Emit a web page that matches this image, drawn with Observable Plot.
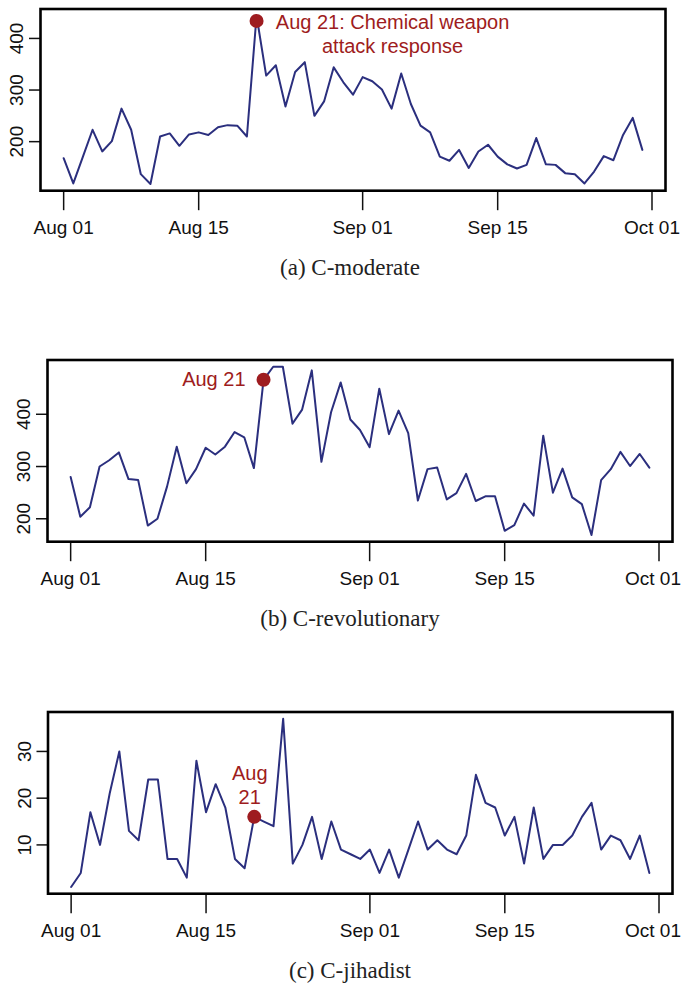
<!DOCTYPE html>
<html><head><meta charset="utf-8">
<script src="https://cdn.jsdelivr.net/npm/d3@7"></script>
<script src="https://cdn.jsdelivr.net/npm/@observablehq/plot@0.6"></script>
<style>
body{margin:0;background:#fff;}
#root{position:relative;width:683px;height:986px;overflow:hidden;background:#fff;}
.panel{position:absolute;left:0;}
.cap{position:absolute;left:0;width:700px;text-align:center;font-family:"Liberation Serif","Times New Roman",serif;font-size:23px;line-height:23px;color:#222;}
</style></head><body><div id="root"></div>
<script>
// ---- data ----
const startDate = "2013-08-01";
const endDate = "2013-09-30";
const xTicks = ["2013-08-01", "2013-08-15", "2013-09-01", "2013-09-15", "2013-10-01"];

const moderate = [
  168,119,171,223,181,201,264,223,137,118,
  210,216,192,214,218,213,228,232,231,210,
  444,328,348,268,335,354,250,278,344,315,291,
  325,317,301,264,332,273,231,218,171,163,
  184,149,181,194,171,156,148,155,207,156,
  155,139,137,119,142,172,164,213,246,184
];
const revolutionary = [
  280,204,222,300,312,327,276,274,187,200,
  262,338,268,295,336,323,338,366,356,297,
  466,491,491,382,409,484,309,404,461,390,370,
  337,449,362,407,364,235,295,298,237,249,
  286,234,243,243,177,188,229,206,359,250,
  296,241,228,169,274,295,328,301,324,298
];
const jihadist = [
  1,4,17,10,21,30,13,11,24,24,
  7,7,3,28,17,23,18,7,5,16,
  15,14,37,6,10,16,7,15,9,8,7,
  9,4,9,3,9,15,9,11,9,8,
  12,25,19,18,12,16,6,18,7,10,
  10,12,16,19,9,12,11,7,12,4
];
const yTicksA = [200, 300, 400];
const yTicksB = [200, 300, 400];
const yTicksC = [10, 20, 30];

const eventDates = ["2013-08-21", "2013-08-21", "2013-08-20"];
const eventValues = [434, 466, 16];
const eventLabels = ["Aug 21: Chemical weapon\nattack response", "Aug 21", "Aug\n21"];
const captions = ["(a) C-moderate", "(b) C-revolutionary", "(c) C-jihadist"];

// ---- rendering ----
const LINE = "#2b2f7e", RED = "#9e1c20";
const dates = d3.utcDay.range(new Date(startDate), d3.utcDay.offset(new Date(endDate), 1));
const fmt = d3.utcFormat("%b %d");
const tickDates = xTicks.map(d => new Date(d));

function panel(values, yTicks, idx, textOpts, marginLeft, marginRight, lastShift) {
  const data = dates.map((d, i) => ({date: d, value: values[i]}));
  const xExt = d3.extent(dates);
  const xPad = (xExt[1] - xExt[0]) * 0.04;
  const yExt = d3.extent(values.concat([eventValues[idx]]));
  const yPad = (yExt[1] - yExt[0]) * 0.04;
  const ev = [{date: new Date(eventDates[idx]), value: eventValues[idx], label: eventLabels[idx]}];
  const labelOpts = {x: d => d, text: d => fmt(d), frameAnchor: "bottom", dy: 30, lineAnchor: "top", textAnchor: "middle", fontSize: 19, fill: "#111"};
  return Plot.plot({
    width: 683, height: 250,
    marginTop: 8.5, marginBottom: 59.8, marginLeft, marginRight,
    style: {fontFamily: "'Liberation Sans', Arial, Helvetica, sans-serif", fontSize: "19px", color: "#111", background: "transparent", overflow: "visible"},
    x: {type: "utc", domain: [new Date(+xExt[0] - xPad), new Date(+xExt[1] + xPad)]},
    y: {domain: [yExt[0] - yPad, yExt[1] + yPad]},
    marks: [
      Plot.axisX({ticks: tickDates, tickSize: 20, tickFormat: () => "", strokeWidth: 1.5, label: null}),
      Plot.text(tickDates.slice(0, -1), labelOpts),
      Plot.text(tickDates.slice(-1), {...labelOpts, dx: lastShift}),
      Plot.axisY({ticks: yTicks, tickSize: 11, tickFormat: () => "", strokeWidth: 1.5, label: null}),
      Plot.text(yTicks, {y: d => d, text: d => String(d), frameAnchor: "left", dx: -17.5, rotate: -90, lineAnchor: "bottom", textAnchor: "middle", fontSize: 19, fill: "#111"}),
      Plot.line(data, {x: "date", y: "value", stroke: LINE, strokeWidth: 2}),
      Plot.frame({stroke: "#000", strokeWidth: 2.6}),
      Plot.dot(ev, {x: "date", y: "value", r: 7, fill: RED, stroke: "none"}),
      Plot.text(ev, {x: "date", y: "value", text: "label", fill: RED, fontSize: 20, ...textOpts})
    ]
  });
}

const root = document.getElementById("root");
const specs = [
  {values: moderate, ticks: yTicksA, top: 0, ml: 40, mr: 18, shift: 0, opts: {textAnchor: "middle", lineAnchor: "top", lineHeight: 1.2, dx: 136, dy: -9}, capTop: 255.8},
  {values: revolutionary, ticks: yTicksB, top: 350.8, ml: 47, mr: 11, shift: -6, opts: {textAnchor: "end", lineAnchor: "middle", dx: -18, dy: 0}, capTop: 607},
  {values: jihadist, ticks: yTicksC, top: 702.5, ml: 47.5, mr: 11, shift: -6, opts: {textAnchor: "middle", lineAnchor: "bottom", lineHeight: 1.2, dx: -4.5, dy: -12.8}, capTop: 958.8}
];
specs.forEach((s, i) => {
  const wrap = document.createElement("div");
  wrap.className = "panel";
  wrap.style.top = s.top + "px";
  wrap.appendChild(panel(s.values, s.ticks, i, s.opts, s.ml, s.mr, s.shift));
  root.appendChild(wrap);
  const cap = document.createElement("div");
  cap.className = "cap";
  cap.style.top = s.capTop + "px";
  cap.textContent = captions[i];
  root.appendChild(cap);
});
</script>
</body></html>
